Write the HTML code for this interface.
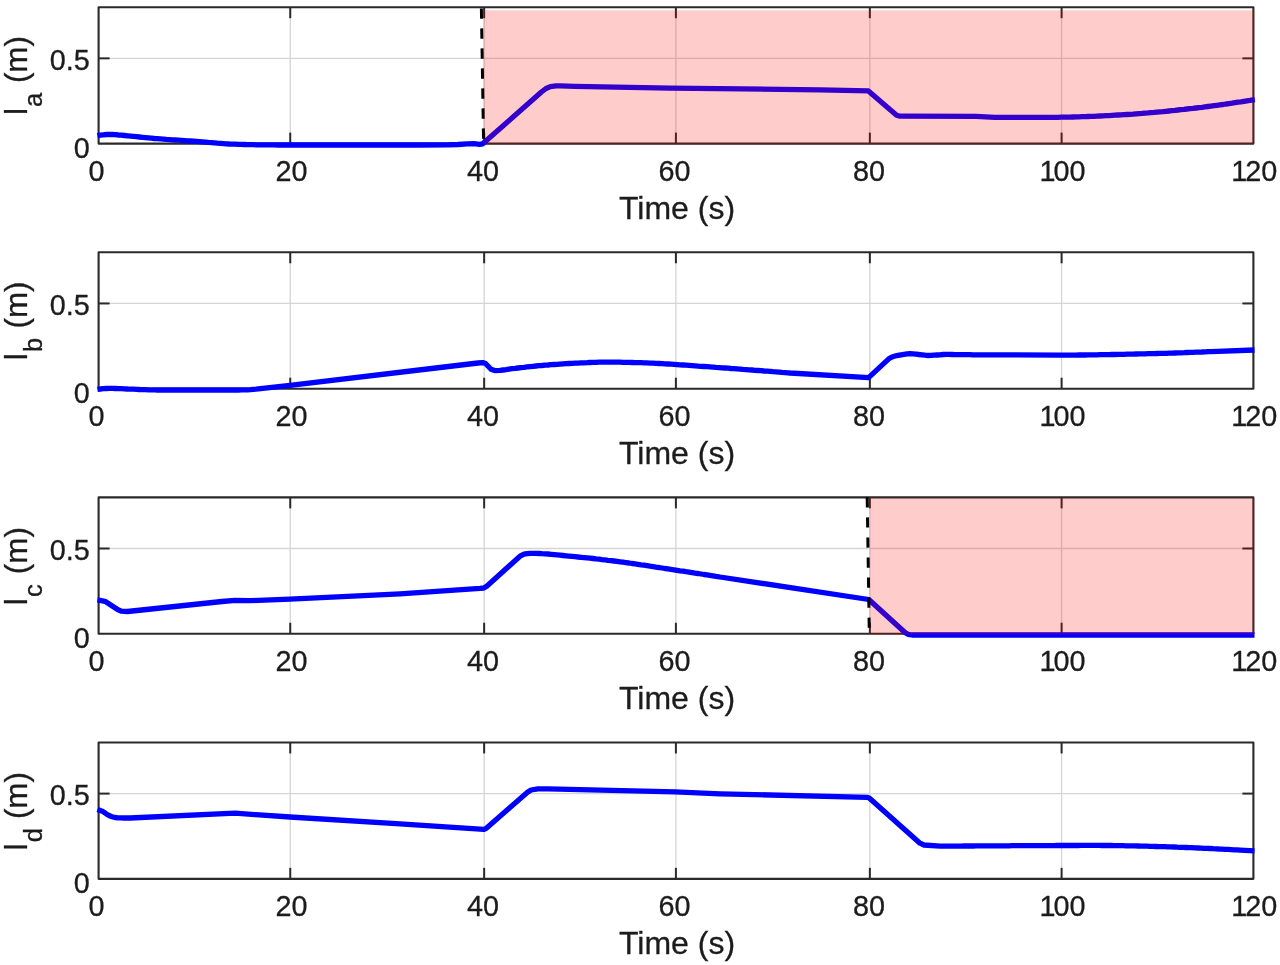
<!DOCTYPE html>
<html><head><meta charset="utf-8"><title>Figure</title>
<style>
html,body{margin:0;padding:0;background:#fff;}
body{width:1280px;height:965px;overflow:hidden;}
svg{display:block;filter:blur(0.55px);}
text{font-family:"Liberation Sans",sans-serif;fill:#1c1c1c;stroke:#1c1c1c;stroke-width:0.3px;}
.tk{font-size:28.8px;}
.lb{font-size:32px;}
.sub{font-size:25.5px;}
</style></head><body>
<svg width="1280" height="965" viewBox="0 0 1280 965">
<rect width="1280" height="965" fill="#fff"/>

<g>
<line x1="290.25" y1="7.2" x2="290.25" y2="143.6" stroke="#d5d5d5" stroke-width="1.3"/>
<line x1="484.15" y1="7.2" x2="484.15" y2="143.6" stroke="#d5d5d5" stroke-width="1.3"/>
<line x1="675.90" y1="7.2" x2="675.90" y2="143.6" stroke="#d5d5d5" stroke-width="1.3"/>
<line x1="869.85" y1="7.2" x2="869.85" y2="143.6" stroke="#d5d5d5" stroke-width="1.3"/>
<line x1="1061.60" y1="7.2" x2="1061.60" y2="143.6" stroke="#d5d5d5" stroke-width="1.3"/>
<line x1="98.6" y1="58.35" x2="1253.4" y2="58.35" stroke="#d5d5d5" stroke-width="1.3"/>
<rect x="98.6" y="7.2" width="1154.8" height="136.4" fill="none" stroke="#2a2a2a" stroke-width="2.1" stroke-linejoin="round"/>
<line x1="290.25" y1="143.6" x2="290.25" y2="132.6" stroke="#2a2a2a" stroke-width="2"/>
<line x1="290.25" y1="7.2" x2="290.25" y2="18.2" stroke="#2a2a2a" stroke-width="2"/>
<line x1="484.15" y1="143.6" x2="484.15" y2="132.6" stroke="#2a2a2a" stroke-width="2"/>
<line x1="484.15" y1="7.2" x2="484.15" y2="18.2" stroke="#2a2a2a" stroke-width="2"/>
<line x1="675.90" y1="143.6" x2="675.90" y2="132.6" stroke="#2a2a2a" stroke-width="2"/>
<line x1="675.90" y1="7.2" x2="675.90" y2="18.2" stroke="#2a2a2a" stroke-width="2"/>
<line x1="869.85" y1="143.6" x2="869.85" y2="132.6" stroke="#2a2a2a" stroke-width="2"/>
<line x1="869.85" y1="7.2" x2="869.85" y2="18.2" stroke="#2a2a2a" stroke-width="2"/>
<line x1="1061.60" y1="143.6" x2="1061.60" y2="132.6" stroke="#2a2a2a" stroke-width="2"/>
<line x1="1061.60" y1="7.2" x2="1061.60" y2="18.2" stroke="#2a2a2a" stroke-width="2"/>
<line x1="98.6" y1="58.35" x2="109.6" y2="58.35" stroke="#2a2a2a" stroke-width="2"/>
<line x1="1253.4" y1="58.35" x2="1242.4" y2="58.35" stroke="#2a2a2a" stroke-width="2"/>
<polyline points="97.4,135.7 100.4,135.1 103.4,134.8 106.4,134.5 109.4,134.4 112.4,134.5 115.4,134.7 118.4,135.0 121.4,135.2 124.4,135.5 127.4,135.8 130.4,136.1 133.4,136.4 136.4,136.7 139.4,137.0 142.4,137.3 145.4,137.6 148.4,137.9 151.4,138.2 154.4,138.5 157.4,138.7 160.4,138.9 163.4,139.1 166.4,139.4 169.4,139.6 172.4,139.8 175.4,140.0 178.4,140.2 181.4,140.4 184.4,140.6 187.4,140.8 190.4,141.0 193.4,141.2 196.4,141.4 199.4,141.6 202.4,141.8 205.4,142.1 208.4,142.4 211.4,142.6 214.4,142.9 217.4,143.2 220.4,143.4 223.4,143.6 226.4,143.8 229.4,144.0 232.4,144.1 235.4,144.2 238.4,144.3 241.4,144.4 244.4,144.5 247.4,144.6 250.4,144.6 253.4,144.7 256.4,144.8 259.4,144.8 262.4,144.8 265.4,144.9 268.4,144.9 271.4,144.9 274.4,144.9 277.4,145.0 280.4,145.0 283.4,145.0 286.4,145.0 289.4,145.0 290.0,145.0 420.0,145.0 447.0,144.9 458.0,144.5 467.0,143.9 474.0,143.7 479.4,144.3 482.7,143.8 541.4,92.0 546.0,88.5 550.4,86.6 556.0,85.9 560.0,85.8 575.0,86.3 670.0,88.2 820.0,89.8 868.4,90.9 896.6,115.3 900.0,116.2 976.0,116.3 995.0,117.4 998.0,117.4 1001.0,117.4 1004.0,117.4 1007.0,117.4 1010.0,117.4 1013.0,117.4 1016.0,117.4 1019.0,117.4 1022.0,117.4 1025.0,117.4 1028.0,117.4 1031.0,117.4 1034.0,117.4 1037.0,117.4 1040.0,117.4 1043.0,117.4 1046.0,117.4 1049.0,117.4 1052.0,117.3 1055.0,117.3 1058.0,117.3 1061.0,117.2 1064.0,117.2 1067.0,117.1 1070.0,117.1 1073.0,117.0 1076.0,116.9 1079.0,116.8 1082.0,116.7 1085.0,116.6 1088.0,116.5 1091.0,116.4 1094.0,116.3 1097.0,116.1 1100.0,116.0 1103.0,115.9 1106.0,115.7 1109.0,115.6 1112.0,115.4 1115.0,115.2 1118.0,115.0 1121.0,114.9 1124.0,114.7 1127.0,114.5 1130.0,114.3 1133.0,114.1 1136.0,113.8 1139.0,113.6 1142.0,113.4 1145.0,113.1 1148.0,112.9 1151.0,112.6 1154.0,112.4 1157.0,112.1 1160.0,111.8 1163.0,111.6 1166.0,111.3 1169.0,111.0 1172.0,110.7 1175.0,110.4 1178.0,110.0 1181.0,109.7 1184.0,109.4 1187.0,109.0 1190.0,108.7 1193.0,108.4 1196.0,108.0 1199.0,107.6 1202.0,107.3 1205.0,106.9 1208.0,106.5 1211.0,106.1 1214.0,105.7 1217.0,105.3 1220.0,104.9 1223.0,104.5 1226.0,104.0 1229.0,103.6 1232.0,103.2 1235.0,102.7 1238.0,102.2 1241.0,101.8 1244.0,101.3 1247.0,100.8 1250.0,100.4 1253.0,99.9 1254.8,99.6" fill="none" stroke="#0000ff" stroke-width="5.3" stroke-linejoin="round" stroke-linecap="butt"/>
<rect x="483.4" y="10.3" width="770.9" height="134.2" fill="#ff0000" fill-opacity="0.2"/>
<line x1="481.4" y1="8.4" x2="483.6" y2="143.6" stroke="#000" stroke-width="3" stroke-dasharray="10.3 9.7"/>
<text class="tk" x="96.5" y="180.9" text-anchor="middle">0</text>
<text class="tk" x="291.4" y="180.9" text-anchor="middle">20</text>
<text class="tk" x="483.1" y="180.9" text-anchor="middle">40</text>
<text class="tk" x="674.6" y="180.9" text-anchor="middle">60</text>
<text class="tk" x="868.9" y="180.9" text-anchor="middle">80</text>
<text class="tk" x="1060.5" y="180.9" dx="2 -2" text-anchor="middle">100</text>
<text class="tk" x="1252.2" y="180.9" dx="2 -2" text-anchor="middle">120</text>
<text class="tk" x="89.8" y="157.9" text-anchor="end">0</text>
<text class="tk" x="89.9" y="69.8" text-anchor="end">0.5</text>
<text class="lb" x="677.0" y="219.1" text-anchor="middle">Time (s)</text>
<text class="lb" transform="translate(27.1,115.1) rotate(-90)">l</text>
<text class="sub" transform="translate(42.3,107.0) rotate(-90)">a</text>
<text class="lb" style="font-size:31.4px" transform="translate(27.1,83.1) rotate(-90)">(m)</text>
</g>
<g>
<line x1="290.25" y1="252.3" x2="290.25" y2="388.70000000000005" stroke="#d5d5d5" stroke-width="1.3"/>
<line x1="484.15" y1="252.3" x2="484.15" y2="388.70000000000005" stroke="#d5d5d5" stroke-width="1.3"/>
<line x1="675.90" y1="252.3" x2="675.90" y2="388.70000000000005" stroke="#d5d5d5" stroke-width="1.3"/>
<line x1="869.85" y1="252.3" x2="869.85" y2="388.70000000000005" stroke="#d5d5d5" stroke-width="1.3"/>
<line x1="1061.60" y1="252.3" x2="1061.60" y2="388.70000000000005" stroke="#d5d5d5" stroke-width="1.3"/>
<line x1="98.6" y1="303.45" x2="1253.4" y2="303.45" stroke="#d5d5d5" stroke-width="1.3"/>
<rect x="98.6" y="252.3" width="1154.8" height="136.4" fill="none" stroke="#2a2a2a" stroke-width="2.1" stroke-linejoin="round"/>
<line x1="290.25" y1="388.70000000000005" x2="290.25" y2="377.70000000000005" stroke="#2a2a2a" stroke-width="2"/>
<line x1="290.25" y1="252.3" x2="290.25" y2="263.3" stroke="#2a2a2a" stroke-width="2"/>
<line x1="484.15" y1="388.70000000000005" x2="484.15" y2="377.70000000000005" stroke="#2a2a2a" stroke-width="2"/>
<line x1="484.15" y1="252.3" x2="484.15" y2="263.3" stroke="#2a2a2a" stroke-width="2"/>
<line x1="675.90" y1="388.70000000000005" x2="675.90" y2="377.70000000000005" stroke="#2a2a2a" stroke-width="2"/>
<line x1="675.90" y1="252.3" x2="675.90" y2="263.3" stroke="#2a2a2a" stroke-width="2"/>
<line x1="869.85" y1="388.70000000000005" x2="869.85" y2="377.70000000000005" stroke="#2a2a2a" stroke-width="2"/>
<line x1="869.85" y1="252.3" x2="869.85" y2="263.3" stroke="#2a2a2a" stroke-width="2"/>
<line x1="1061.60" y1="388.70000000000005" x2="1061.60" y2="377.70000000000005" stroke="#2a2a2a" stroke-width="2"/>
<line x1="1061.60" y1="252.3" x2="1061.60" y2="263.3" stroke="#2a2a2a" stroke-width="2"/>
<line x1="98.6" y1="303.45" x2="109.6" y2="303.45" stroke="#2a2a2a" stroke-width="2"/>
<line x1="1253.4" y1="303.45" x2="1242.4" y2="303.45" stroke="#2a2a2a" stroke-width="2"/>
<polyline points="97.4,389.4 100.4,389.0 103.4,388.7 106.4,388.5 109.4,388.4 112.4,388.4 115.4,388.5 118.4,388.6 121.4,388.7 124.4,388.8 127.4,389.0 130.4,389.1 133.4,389.2 136.4,389.3 139.4,389.5 142.4,389.6 145.4,389.7 148.4,389.8 151.4,389.9 154.4,389.9 157.4,390.0 160.4,390.0 163.4,390.0 166.4,390.0 169.4,390.0 172.4,390.0 175.4,390.0 178.4,390.0 181.4,390.0 184.4,390.0 187.4,390.0 190.4,390.0 193.4,390.0 196.4,390.0 199.4,390.0 202.4,390.0 205.4,390.0 208.4,390.0 211.4,390.0 214.4,390.0 217.4,390.0 220.4,390.0 223.4,390.0 226.4,390.0 229.4,390.0 232.4,390.0 235.4,390.0 238.4,390.0 241.4,389.9 244.4,389.8 247.4,389.8 250.4,389.6 253.4,389.3 256.0,389.1 290.0,385.3 440.0,367.5 478.0,363.0 482.7,362.6 485.5,363.5 491.0,369.3 494.8,370.6 500.0,370.4 503.0,370.0 506.0,369.6 509.0,369.1 512.0,368.7 515.0,368.4 518.0,368.0 521.0,367.6 524.0,367.3 527.0,366.9 530.0,366.6 533.0,366.3 536.0,366.0 539.0,365.7 542.0,365.5 545.0,365.2 548.0,365.0 551.0,364.7 554.0,364.5 557.0,364.3 560.0,364.1 563.0,363.9 566.0,363.7 569.0,363.5 572.0,363.3 575.0,363.2 578.0,363.1 581.0,362.9 584.0,362.8 587.0,362.7 590.0,362.5 593.0,362.4 596.0,362.3 599.0,362.2 602.0,362.2 605.0,362.1 608.0,362.1 611.0,362.1 614.0,362.1 617.0,362.2 620.0,362.2 623.0,362.3 626.0,362.3 629.0,362.4 632.0,362.5 635.0,362.6 638.0,362.6 641.0,362.7 644.0,362.8 647.0,362.9 650.0,363.1 653.0,363.2 656.0,363.4 659.0,363.5 662.0,363.7 665.0,363.9 668.0,364.0 671.0,364.2 674.0,364.4 677.0,364.6 680.0,364.8 683.0,365.0 686.0,365.2 689.0,365.4 692.0,365.6 695.0,365.8 698.0,366.1 701.0,366.3 704.0,366.5 707.0,366.7 710.0,366.9 713.0,367.1 716.0,367.4 719.0,367.6 722.0,367.8 725.0,368.0 728.0,368.2 731.0,368.5 734.0,368.7 737.0,368.9 740.0,369.1 743.0,369.4 746.0,369.6 749.0,369.8 752.0,370.0 755.0,370.3 758.0,370.5 761.0,370.7 764.0,371.0 767.0,371.2 770.0,371.4 773.0,371.7 776.0,371.9 779.0,372.1 782.0,372.4 785.0,372.6 788.0,372.8 790.0,373.0 868.6,377.6 889.0,358.6 892.0,357.0 895.0,356.0 898.0,355.4 901.0,354.8 904.0,354.3 907.0,353.9 910.0,353.7 913.0,353.8 916.0,354.1 919.0,354.5 922.0,354.8 925.0,355.2 928.0,355.5 931.0,355.4 934.0,355.2 937.0,355.0 940.0,354.8 943.0,354.5 946.0,354.4 949.0,354.4 952.0,354.5 955.0,354.6 958.0,354.7 961.0,354.7 964.0,354.7 967.0,354.7 970.0,354.7 973.0,354.8 976.0,354.8 979.0,354.8 982.0,354.8 985.0,354.8 988.0,354.8 991.0,354.8 994.0,354.8 997.0,354.8 1000.0,354.8 1061.0,355.2 1064.0,355.2 1067.0,355.2 1070.0,355.1 1073.0,355.1 1076.0,355.1 1079.0,355.0 1082.0,355.0 1085.0,355.0 1088.0,354.9 1091.0,354.9 1094.0,354.8 1097.0,354.8 1100.0,354.7 1103.0,354.7 1106.0,354.6 1109.0,354.6 1112.0,354.5 1115.0,354.5 1118.0,354.4 1121.0,354.3 1124.0,354.3 1127.0,354.2 1130.0,354.1 1133.0,354.1 1136.0,354.0 1139.0,353.9 1142.0,353.9 1145.0,353.8 1148.0,353.7 1151.0,353.7 1154.0,353.6 1157.0,353.5 1160.0,353.4 1163.0,353.3 1166.0,353.3 1169.0,353.2 1172.0,353.1 1175.0,353.0 1178.0,352.9 1181.0,352.8 1184.0,352.7 1187.0,352.5 1190.0,352.4 1193.0,352.3 1196.0,352.2 1199.0,352.1 1202.0,352.0 1205.0,351.8 1208.0,351.7 1211.0,351.6 1254.5,350.0" fill="none" stroke="#0000ff" stroke-width="5.3" stroke-linejoin="round" stroke-linecap="butt"/>
<text class="tk" x="96.5" y="426.0" text-anchor="middle">0</text>
<text class="tk" x="291.4" y="426.0" text-anchor="middle">20</text>
<text class="tk" x="483.1" y="426.0" text-anchor="middle">40</text>
<text class="tk" x="674.6" y="426.0" text-anchor="middle">60</text>
<text class="tk" x="868.9" y="426.0" text-anchor="middle">80</text>
<text class="tk" x="1060.5" y="426.0" dx="2 -2" text-anchor="middle">100</text>
<text class="tk" x="1252.2" y="426.0" dx="2 -2" text-anchor="middle">120</text>
<text class="tk" x="89.8" y="403.0" text-anchor="end">0</text>
<text class="tk" x="89.9" y="315.0" text-anchor="end">0.5</text>
<text class="lb" x="677.0" y="464.2" text-anchor="middle">Time (s)</text>
<text class="lb" transform="translate(27.1,360.2) rotate(-90)">l</text>
<text class="sub" transform="translate(42.3,352.1) rotate(-90)">b</text>
<text class="lb" style="font-size:31.4px" transform="translate(27.1,328.5) rotate(-90)">(m)</text>
</g>
<g>
<line x1="290.25" y1="497.35" x2="290.25" y2="633.75" stroke="#d5d5d5" stroke-width="1.3"/>
<line x1="484.15" y1="497.35" x2="484.15" y2="633.75" stroke="#d5d5d5" stroke-width="1.3"/>
<line x1="675.90" y1="497.35" x2="675.90" y2="633.75" stroke="#d5d5d5" stroke-width="1.3"/>
<line x1="869.85" y1="497.35" x2="869.85" y2="633.75" stroke="#d5d5d5" stroke-width="1.3"/>
<line x1="1061.60" y1="497.35" x2="1061.60" y2="633.75" stroke="#d5d5d5" stroke-width="1.3"/>
<line x1="98.6" y1="548.50" x2="1253.4" y2="548.50" stroke="#d5d5d5" stroke-width="1.3"/>
<rect x="98.6" y="497.35" width="1154.8" height="136.4" fill="none" stroke="#2a2a2a" stroke-width="2.1" stroke-linejoin="round"/>
<line x1="290.25" y1="633.75" x2="290.25" y2="622.75" stroke="#2a2a2a" stroke-width="2"/>
<line x1="290.25" y1="497.35" x2="290.25" y2="508.35" stroke="#2a2a2a" stroke-width="2"/>
<line x1="484.15" y1="633.75" x2="484.15" y2="622.75" stroke="#2a2a2a" stroke-width="2"/>
<line x1="484.15" y1="497.35" x2="484.15" y2="508.35" stroke="#2a2a2a" stroke-width="2"/>
<line x1="675.90" y1="633.75" x2="675.90" y2="622.75" stroke="#2a2a2a" stroke-width="2"/>
<line x1="675.90" y1="497.35" x2="675.90" y2="508.35" stroke="#2a2a2a" stroke-width="2"/>
<line x1="869.85" y1="633.75" x2="869.85" y2="622.75" stroke="#2a2a2a" stroke-width="2"/>
<line x1="869.85" y1="497.35" x2="869.85" y2="508.35" stroke="#2a2a2a" stroke-width="2"/>
<line x1="1061.60" y1="633.75" x2="1061.60" y2="622.75" stroke="#2a2a2a" stroke-width="2"/>
<line x1="1061.60" y1="497.35" x2="1061.60" y2="508.35" stroke="#2a2a2a" stroke-width="2"/>
<line x1="98.6" y1="548.50" x2="109.6" y2="548.50" stroke="#2a2a2a" stroke-width="2"/>
<line x1="1253.4" y1="548.50" x2="1242.4" y2="548.50" stroke="#2a2a2a" stroke-width="2"/>
<polyline points="97.4,599.9 105.0,601.3 118.0,609.8 121.5,611.2 127.5,611.5 222.0,601.5 235.0,600.4 250.0,600.7 290.0,599.2 400.0,593.8 480.0,588.4 483.8,588.0 487.0,586.0 520.0,556.2 524.0,554.2 527.0,553.6 530.0,553.3 533.0,553.3 536.0,553.4 539.0,553.5 542.0,553.7 545.0,553.8 548.0,554.0 551.0,554.3 554.0,554.6 557.0,554.9 560.0,555.2 563.0,555.5 566.0,555.8 569.0,556.1 572.0,556.4 575.0,556.7 578.0,557.0 581.0,557.3 584.0,557.6 587.0,557.9 590.0,558.2 593.0,558.5 596.0,558.9 599.0,559.2 602.0,559.6 605.0,559.9 608.0,560.3 611.0,560.6 614.0,561.0 617.0,561.4 620.0,561.8 623.0,562.2 626.0,562.6 629.0,563.0 632.0,563.5 635.0,563.9 638.0,564.3 641.0,564.8 644.0,565.2 647.0,565.7 650.0,566.2 653.0,566.6 656.0,567.1 659.0,567.5 662.0,568.0 665.0,568.5 668.0,568.9 671.0,569.4 674.0,569.8 677.0,570.3 680.0,570.8 683.0,571.2 686.0,571.7 689.0,572.1 692.0,572.6 695.0,573.1 698.0,573.5 701.0,574.0 704.0,574.5 707.0,574.9 710.0,575.4 713.0,575.9 716.0,576.4 719.0,576.8 720.0,577.0 868.8,599.5 905.0,632.5 908.0,634.3 912.0,635.0 1254.5,635.0" fill="none" stroke="#0000ff" stroke-width="5.3" stroke-linejoin="round" stroke-linecap="butt"/>
<rect x="869.4" y="497.85" width="384.9" height="136.8" fill="#ff0000" fill-opacity="0.2"/>
<line x1="867.2" y1="497.35" x2="869.3" y2="633.75" stroke="#000" stroke-width="3" stroke-dasharray="10.2 9.85"/>
<text class="tk" x="96.5" y="671.0" text-anchor="middle">0</text>
<text class="tk" x="291.4" y="671.0" text-anchor="middle">20</text>
<text class="tk" x="483.1" y="671.0" text-anchor="middle">40</text>
<text class="tk" x="674.6" y="671.0" text-anchor="middle">60</text>
<text class="tk" x="868.9" y="671.0" text-anchor="middle">80</text>
<text class="tk" x="1060.5" y="671.0" dx="2 -2" text-anchor="middle">100</text>
<text class="tk" x="1252.2" y="671.0" dx="2 -2" text-anchor="middle">120</text>
<text class="tk" x="89.8" y="648.0" text-anchor="end">0</text>
<text class="tk" x="89.9" y="560.0" text-anchor="end">0.5</text>
<text class="lb" x="677.0" y="709.2" text-anchor="middle">Time (s)</text>
<text class="lb" transform="translate(27.1,605.2) rotate(-90)">l</text>
<text class="sub" transform="translate(42.3,597.1) rotate(-90)">c</text>
<text class="lb" style="font-size:31.4px" transform="translate(27.1,574.2) rotate(-90)">(m)</text>
</g>
<g>
<line x1="290.25" y1="742.45" x2="290.25" y2="878.85" stroke="#d5d5d5" stroke-width="1.3"/>
<line x1="484.15" y1="742.45" x2="484.15" y2="878.85" stroke="#d5d5d5" stroke-width="1.3"/>
<line x1="675.90" y1="742.45" x2="675.90" y2="878.85" stroke="#d5d5d5" stroke-width="1.3"/>
<line x1="869.85" y1="742.45" x2="869.85" y2="878.85" stroke="#d5d5d5" stroke-width="1.3"/>
<line x1="1061.60" y1="742.45" x2="1061.60" y2="878.85" stroke="#d5d5d5" stroke-width="1.3"/>
<line x1="98.6" y1="793.60" x2="1253.4" y2="793.60" stroke="#d5d5d5" stroke-width="1.3"/>
<rect x="98.6" y="742.45" width="1154.8" height="136.4" fill="none" stroke="#2a2a2a" stroke-width="2.1" stroke-linejoin="round"/>
<line x1="290.25" y1="878.85" x2="290.25" y2="867.85" stroke="#2a2a2a" stroke-width="2"/>
<line x1="290.25" y1="742.45" x2="290.25" y2="753.45" stroke="#2a2a2a" stroke-width="2"/>
<line x1="484.15" y1="878.85" x2="484.15" y2="867.85" stroke="#2a2a2a" stroke-width="2"/>
<line x1="484.15" y1="742.45" x2="484.15" y2="753.45" stroke="#2a2a2a" stroke-width="2"/>
<line x1="675.90" y1="878.85" x2="675.90" y2="867.85" stroke="#2a2a2a" stroke-width="2"/>
<line x1="675.90" y1="742.45" x2="675.90" y2="753.45" stroke="#2a2a2a" stroke-width="2"/>
<line x1="869.85" y1="878.85" x2="869.85" y2="867.85" stroke="#2a2a2a" stroke-width="2"/>
<line x1="869.85" y1="742.45" x2="869.85" y2="753.45" stroke="#2a2a2a" stroke-width="2"/>
<line x1="1061.60" y1="878.85" x2="1061.60" y2="867.85" stroke="#2a2a2a" stroke-width="2"/>
<line x1="1061.60" y1="742.45" x2="1061.60" y2="753.45" stroke="#2a2a2a" stroke-width="2"/>
<line x1="98.6" y1="793.60" x2="109.6" y2="793.60" stroke="#2a2a2a" stroke-width="2"/>
<line x1="1253.4" y1="793.60" x2="1242.4" y2="793.60" stroke="#2a2a2a" stroke-width="2"/>
<polyline points="97.4,809.6 103.0,811.6 106.0,813.7 109.0,815.5 112.0,816.7 115.0,817.5 118.0,817.8 121.0,817.9 124.0,818.0 127.0,818.0 130.0,818.0 235.0,813.2 290.0,817.0 400.0,823.8 483.8,829.4 486.0,828.6 527.5,792.2 531.0,790.0 538.0,788.8 548.0,788.9 675.0,791.8 720.0,793.8 867.5,797.3 869.5,798.2 920.0,843.2 924.0,845.0 940.0,846.2 943.0,846.2 946.0,846.2 949.0,846.2 952.0,846.1 955.0,846.1 958.0,846.1 961.0,846.1 964.0,846.0 967.0,846.0 970.0,846.0 973.0,846.0 976.0,845.9 979.0,845.9 982.0,845.9 985.0,845.9 988.0,845.9 991.0,845.9 994.0,845.8 997.0,845.8 1000.0,845.8 1003.0,845.8 1006.0,845.8 1009.0,845.8 1012.0,845.7 1015.0,845.7 1018.0,845.7 1021.0,845.7 1024.0,845.7 1027.0,845.7 1030.0,845.7 1033.0,845.7 1036.0,845.6 1039.0,845.6 1042.0,845.6 1045.0,845.6 1048.0,845.6 1051.0,845.6 1054.0,845.6 1057.0,845.5 1060.0,845.5 1063.0,845.5 1066.0,845.5 1069.0,845.5 1072.0,845.5 1075.0,845.5 1078.0,845.5 1081.0,845.4 1084.0,845.4 1087.0,845.4 1090.0,845.4 1093.0,845.4 1096.0,845.4 1099.0,845.4 1102.0,845.5 1105.0,845.5 1108.0,845.5 1111.0,845.5 1114.0,845.6 1117.0,845.6 1120.0,845.7 1123.0,845.7 1126.0,845.8 1129.0,845.8 1132.0,845.9 1135.0,845.9 1138.0,846.0 1141.0,846.1 1144.0,846.1 1147.0,846.2 1150.0,846.3 1153.0,846.4 1156.0,846.5 1159.0,846.6 1162.0,846.6 1165.0,846.7 1168.0,846.8 1171.0,846.9 1174.0,847.0 1177.0,847.2 1180.0,847.3 1183.0,847.4 1186.0,847.5 1189.0,847.6 1192.0,847.7 1195.0,847.9 1198.0,848.0 1201.0,848.1 1204.0,848.3 1207.0,848.4 1210.0,848.5 1213.0,848.7 1216.0,848.8 1219.0,849.0 1222.0,849.1 1225.0,849.3 1228.0,849.4 1231.0,849.6 1234.0,849.8 1237.0,849.9 1240.0,850.1 1254.5,850.9" fill="none" stroke="#0000ff" stroke-width="5.3" stroke-linejoin="round" stroke-linecap="butt"/>
<text class="tk" x="96.5" y="916.1" text-anchor="middle">0</text>
<text class="tk" x="291.4" y="916.1" text-anchor="middle">20</text>
<text class="tk" x="483.1" y="916.1" text-anchor="middle">40</text>
<text class="tk" x="674.6" y="916.1" text-anchor="middle">60</text>
<text class="tk" x="868.9" y="916.1" text-anchor="middle">80</text>
<text class="tk" x="1060.5" y="916.1" dx="2 -2" text-anchor="middle">100</text>
<text class="tk" x="1252.2" y="916.1" dx="2 -2" text-anchor="middle">120</text>
<text class="tk" x="89.8" y="893.1" text-anchor="end">0</text>
<text class="tk" x="89.9" y="805.1" text-anchor="end">0.5</text>
<text class="lb" x="677.0" y="954.4" text-anchor="middle">Time (s)</text>
<text class="lb" transform="translate(27.1,850.4) rotate(-90)">l</text>
<text class="sub" transform="translate(42.3,842.2) rotate(-90)">d</text>
<text class="lb" style="font-size:31.4px" transform="translate(27.1,819.1) rotate(-90)">(m)</text>
</g>
</svg>
</body></html>
